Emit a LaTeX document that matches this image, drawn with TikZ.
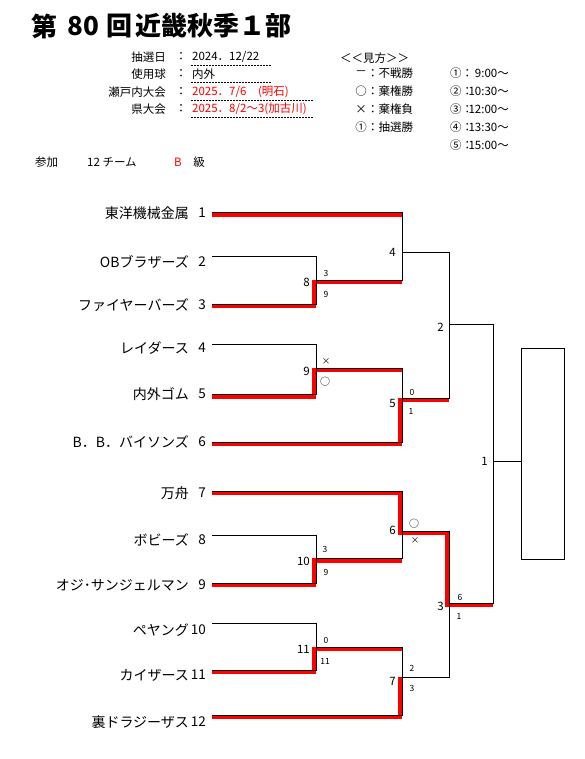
\documentclass[tikz,border=0pt]{standalone}
\usepackage{fontspec}
\newfontfamily\jp{Noto Sans CJK JP}
\begin{document}
\begin{tikzpicture}[x=1pt,y=-1pt,
  team/.style={anchor=east,inner sep=0pt,font=\jp\fontsize{14}{16}\selectfont},
  seed/.style={anchor=east,inner sep=0pt,font=\jp\fontsize{13.5}{16}\selectfont},
  info/.style={inner sep=0pt,font=\jp\fontsize{11.5}{13}\selectfont},
  mno/.style={anchor=east,inner sep=0pt,font=\jp\fontsize{11.5}{13}\selectfont},
  sc/.style={inner sep=0pt,font=\jp\fontsize{8.5}{9}\selectfont},
  scc/.style={inner sep=0pt,font=\jp\fontsize{10}{11}\selectfont},
  ttl/.style={inner sep=0pt,font=\jp\bfseries\fontsize{26}{28}\selectfont},
  lose/.style={line width=0.8pt,black},
  win/.style={line width=4.5pt,red,line join=miter,transform canvas={xshift=-2pt,yshift=-2pt},shorten <=2pt,shorten >=-2.25pt},
  dots/.style={line width=0.8pt,dash pattern=on 1.5pt off 1.5pt}]
\useasboundingbox (0,0) rectangle (585,759);
\fill[white] (0,0) rectangle (585,759);

% title
\node[ttl,anchor=west] (ti1) at (31,26) {第};
\node[ttl] (ti2) at (83,26) {80};
\node[ttl] (ti3) at (119,26) {回};
\node[ttl,anchor=west] (ti4) at (135,26) {近畿秋季１部};

% info block
\node[info,anchor=east] (l1) at (166,57) {抽選日};
\node[info,anchor=east] (l2) at (166,74) {使用球};
\node[info,anchor=east] (l3) at (166,92) {瀬戸内大会};
\node[info,anchor=east] (l4) at (166,109) {県大会};
\foreach \y/\k in {57/1,74/2,92/3,109/4}{\node[info] (c\k) at (181,\y) {：};}
\node[info,anchor=west] (v1) at (192,57) {2024．12/22};
\node[info,anchor=west] (v2) at (192,74) {内外};
\node[info,anchor=west,text=red] (v3) at (192,92) {2025．7/6　(明石)};
\node[info,anchor=west,text=red] (v4) at (192,109) {2025．8/2～3(加古川)};
\draw[dots] (191,65) -- (271,65);
\draw[dots] (191,82) -- (271,82);
\draw[dots] (191,100) -- (313,100);
\draw[dots] (191,117) -- (313,117);

% legend
\node[info,anchor=west] (lg0) at (340,58) {＜＜見方＞＞};
\node[info] (sy1) at (361,73) {－};
\node[info] (sy2) at (361,91) {○};
\node[info] (sy3) at (361,109) {×};
\node[info] (sy4) at (361,127) {①};
\node[info,anchor=west] (lt1) at (367,73) {：不戦勝};
\node[info,anchor=west] (lt2) at (367,91) {：棄権勝};
\node[info,anchor=west] (lt3) at (367,109) {：棄権負};
\node[info,anchor=west] (lt4) at (367,127) {：抽選勝};
\foreach \k/\c/\t/\y in {1/①/9:00～/73,2/②/10:30～/91,3/③/12:00～/109,4/④/13:30～/127,5/⑤/15:00～/145}{
  \node[info,anchor=west] (rc\k) at (450,\y) {\c：};
  \node[info,anchor=east] (rt\k) at (509,\y) {\t};
}

% participants
\node[info,anchor=west] (p1) at (35,162) {参加};
\node[info,anchor=west] (p2) at (87,162) {12 チーム};
\node[info,text=red] (p3) at (178,162) {B};
\node[info] (p4) at (199,162) {級};

% teams
\foreach \i/\n/\ty/\ly in {1/東洋機械金属/213/212.5,2/OBブラザーズ/262/256.5,3/ファイヤーバーズ/305/304,
  4/レイダース/348/344.3,5/内外ゴム/394/394.5,6/B．B．バイソンズ/442/442,
  7/万舟/493/491,8/ボビーズ/540/535,9/オジ･サンジェルマン/585/583,
  10/ペヤング/630/623.3,11/カイザース/675/670,12/裏ドラジーザス/722/715}{
  \node[team] (n\i) at (189,\ty) {\n};
  \node[seed] (s\i) at (206,\ty) {\i};
  \coordinate (T\i) at (212,\ly);
}

% match points
\coordinate (M8) at (316,280);
\coordinate (M4) at (402,252);
\coordinate (M9) at (316,368);
\coordinate (M5) at (402,398);
\coordinate (M2) at (449,324);
\coordinate (M1) at (493,461);
\coordinate (M10) at (316,558.5);
\coordinate (M6) at (402,531);
\coordinate (M11) at (316,647);
\coordinate (M7) at (402,677);
\coordinate (M3) at (449,603);
\node[draw,line width=0.8pt,minimum width=42.5pt,minimum height=211pt,inner sep=0pt] (box) at (543,453.8) {};

% winners (red)
\draw[win] (T1) -- (T1 -| M4);
\draw[win] (T3) -| (M8) -- (M8 -| M4);
\draw[win] (T5) -| (M9) -- (M9 -| M5);
\draw[win] (T6) -| (M5) -- (M5 -| M2);
\draw[win] (T7) -| (M6) -| (M3) -- (M3 -| M1);
\draw[win] (T9) -| (M10) -- (M10 -| M6);
\draw[win] (T11) -| (M11) -- (M11 -| M7);
\draw[win] (T12) -| (M7);

% bracket (black)
\draw[lose] (T2) -| (M8) (T3) -| (M8);
\draw[lose] (T1) -| (M4) (M8) -| (M4);
\draw[lose] (T4) -| (M9) (T5) -| (M9);
\draw[lose] (M9) -| (M5) (T6) -| (M5);
\draw[lose] (M4) -| (M2) (M5) -| (M2);
\draw[lose] (T8) -| (M10) (T9) -| (M10);
\draw[lose] (T7) -| (M6) (M10) -| (M6);
\draw[lose] (T10) -| (M11) (T11) -| (M11);
\draw[lose] (M11) -| (M7) (T12) -| (M7);
\draw[lose] (M6) -| (M3) (M7) -| (M3);
\draw[lose] (M2) -| (M1) (M3) -| (M1);
\draw[lose] (M1) -- (M1 -| box.west);

% match numbers
\foreach \k/\x/\y in {8/310/282,4/396/252,9/310/371,5/396/403,2/444/327,1/488/461,
  6/396/530,10/310/561,3/444/606,11/310/649,7/396/681}{
  \node[mno] (mn\k) at (\x,\y) {\k};
}

% scores
\node[sc] (a1) at (326,273) {3};
\node[sc] (a2) at (326,294) {9};
\node[sc] (a3) at (326,362) {×};
\node[scc] (a4) at (325,382) {○};
\node[sc] (a5) at (412,392) {0};
\node[sc] (a6) at (411,411) {1};
\node[scc] (a7) at (414,524) {○};
\node[sc] (a8) at (415,541) {×};
\node[sc] (a9) at (325,549) {3};
\node[sc] (a10) at (326,572) {9};
\node[sc] (a11) at (460,597) {6};
\node[sc] (a12) at (459,616) {1};
\node[sc] (a13) at (326,640) {0};
\node[sc] (a14) at (325,661) {11};
\node[sc] (a15) at (412,668) {2};
\node[sc] (a16) at (412,688) {3};
\end{tikzpicture}
\end{document}
